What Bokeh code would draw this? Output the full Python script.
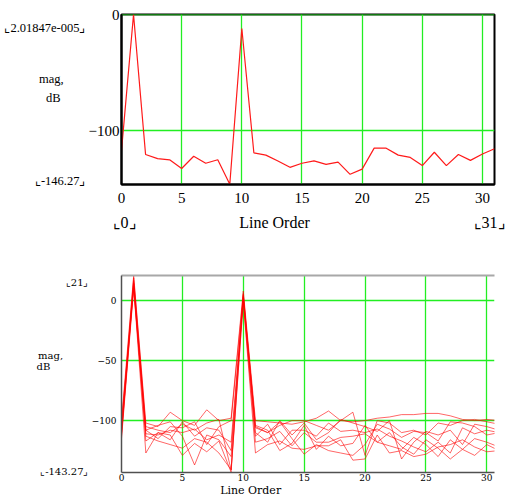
from bokeh.plotting import figure
from bokeh.layouts import column
from bokeh.models import FixedTicker, Range1d, LinearAxis, Grid
from bokeh.embed import file_html
from bokeh.resources import INLINE

# ---------------- data ----------------
orders = list(range(32))

top_mag = [-117, 0, -120.5, -124, -125, -132.5, -122, -128, -125, -146, -12,
           -119, -121, -126, -131.5, -128, -126, -129, -127, -137.5, -133,
           -115, -115, -121, -123, -130, -118.5, -130, -120.5, -125.5, -120, -115.5]

bottom_series = [
    [-100, 21, -102, -105, -93, -100, -104, -91, -100, -98, 8, -100, -101, -102, -103, -101,
     -98, -92, -100, -101, -100, -98, -97, -95, -95, -94, -94, -96, -99, -100, -99, -100],
    [-105, 19, -105, -108, -110, -103, -108, -102, -99, -141, 6, -105, -110, -104, -100, -100,
     -104, -108, -100, -93, -129, -100, -102, -110, -108, -112, -102, -104, -100, -99, -101, -103],
    [-108, 17, -108, -104, -101, -113, -137, -112, -116, -130, 4, -110, -118, -100, -112, -102,
     -116, -110, -99, -102, -105, -109, -100, -132, -118, -109, -112, -108, -120, -103, -105, -108],
    [-111, 15, -111, -112, -108, -110, -107, -116, -112, -118, 2, -113, -103, -120, -108, -108,
     -113, -102, -109, -108, -110, -107, -113, -117, -122, -126, -118, -127, -106, -111, -108, -110],
    [-113, 14, -113, -117, -120, -123, -115, -118, -127, -141, 0, -118, -115, -109, -121, -110,
     -118, -118, -114, -113, -111, -118, -121, -124, -114, -120, -130, -116, -124, -115, -118, -122],
    [-102, 12, -117, -110, -112, -129, -119, -126, -117, -143, -1, -127, -120, -117, -123, -124,
     -121, -121, -116, -133, -132, -112, -127, -125, -130, -128, -122, -120, -116, -122, -126, -125],
    [-110, 11, -127, -110, -116, -101, -113, -106, -108, -125, 3, -104, -108, -125, -119, -104,
     -124, -113, -121, -119, -104, -118, -110, -122, -128, -116, -123, -132, -124, -129, -120, -125],
    [-115, 10, -108, -115, -105, -106, -101, -120, -105, -100, 5, -106, -110, -101, -115, -128,
     -120, -125, -127, -129, -120, -103, -107, -114, -109, -110, -117, -101, -102, -105, -112, -110],
]

x_ticks = [0, 5, 10, 15, 20, 25, 30]
top_y_ticks = [0, -100]
bottom_y_ticks = [0, -50, -100]
top_y_range = (-146.27, 2.01847e-05)
bottom_y_range = (-143.27, 21)
top_x_range = (0, 31)
bottom_x_range = (0, 30.63)

top_limit_labels = ["⌞2.01847e-005⌟", "⌞-146.27⌟"]
top_x_limit_labels = ["⌞0⌟", "⌞31⌟"]
bottom_limit_labels = ["⌞21⌟", "⌞-143.27⌟"]
y_title = ["mag,", "dB"]
x_title = "Line Order"

GREEN = "#22ee22"
SERIF = "Liberation Serif"
SMALL = "DejaVu Serif"
NB = "\u00a0"


def py_to_data(py, top_px, bottom_px, rng):
    lo, hi = rng
    return hi - (py - top_px) / (bottom_px - top_px) * (hi - lo)


def px_to_data(px, left_px, right_px, rng):
    lo, hi = rng
    return lo + (px - left_px) / (right_px - left_px) * (hi - lo)


def plain_axis(ax, color, width):
    ax.major_tick_line_color = None
    ax.minor_tick_line_color = None
    ax.major_tick_out = 0
    ax.major_tick_in = 0
    ax.minor_tick_out = 0
    ax.minor_tick_in = 0
    ax.axis_line_color = color
    ax.axis_line_width = width
    ax.major_label_text_color = "black"
    return ax


# ---------------- top chart ----------------
# frame: x 121..494, y 14..184 (page px)
T_L, T_R, T_T, T_B = 121, 494, 14, 184
p1 = figure(width=507, height=250, output_backend="svg", toolbar_location=None,
            x_range=Range1d(*top_x_range), y_range=Range1d(*top_y_range),
            x_axis_type=None, y_axis_type=None,
            min_border_left=T_L, min_border_right=507 - T_R, min_border_top=T_T,
            min_border_bottom=250 - T_B)
p1.background_fill_color = "white"
p1.border_fill_color = "white"
p1.outline_line_color = "black"
p1.outline_line_width = 2

p1.add_layout(Grid(dimension=0, ticker=FixedTicker(ticks=x_ticks), grid_line_color=GREEN, grid_line_width=1.3))
p1.add_layout(Grid(dimension=1, ticker=FixedTicker(ticks=top_y_ticks), grid_line_color=GREEN, grid_line_width=1.3))
p1.line(orders, top_mag, line_color="#ff1a1a", line_width=1.2)

ya = plain_axis(LinearAxis(ticker=FixedTicker(ticks=top_y_ticks)), "black", 2)
ya.major_label_text_font = SERIF
ya.major_label_text_font_size = "15px"
ya.major_label_standoff = 2
p1.add_layout(ya, "left")

# outer left axis holding the Mathcad limit labels and the y title
t_pos = [py_to_data(27, T_T, T_B, top_y_range), py_to_data(78, T_T, T_B, top_y_range),
         py_to_data(97, T_T, T_B, top_y_range), py_to_data(180, T_T, T_B, top_y_range)]
ya2 = plain_axis(LinearAxis(ticker=FixedTicker(ticks=t_pos)), None, 0)
ya2.major_label_overrides = {t_pos[0]: top_limit_labels[0], t_pos[1]: y_title[0] + NB * 7,
                             t_pos[2]: y_title[1] + NB * 8, t_pos[3]: top_limit_labels[1]}
ya2.major_label_text_font = SERIF
ya2.major_label_text_font_size = "12.5px"
ya2.major_label_standoff = 0
p1.add_layout(ya2, "left")

xa = plain_axis(LinearAxis(ticker=FixedTicker(ticks=x_ticks)), "black", 2)
xa.major_label_text_font = SERIF
xa.major_label_text_font_size = "15px"
xa.major_label_standoff = 8
p1.add_layout(xa, "below")

b_pos = [px_to_data(124, T_L, T_R, top_x_range), px_to_data(274, T_L, T_R, top_x_range),
         px_to_data(489, T_L, T_R, top_x_range)]
xa2 = plain_axis(LinearAxis(ticker=FixedTicker(ticks=b_pos)), None, 0)
xa2.major_label_overrides = {b_pos[0]: top_x_limit_labels[0], b_pos[1]: x_title,
                             b_pos[2]: top_x_limit_labels[1]}
xa2.major_label_text_font = SERIF
xa2.major_label_text_font_size = "16px"
xa2.major_label_standoff = 8
p1.add_layout(xa2, "below")

# ---------------- bottom chart ----------------
# frame: x 120..507, y 275..473 (page px); figure starts at page y 250
B_L, B_T, B_B = 120, 275, 473
p2 = figure(width=507, height=249, output_backend="svg", toolbar_location=None,
            x_range=Range1d(*bottom_x_range), y_range=Range1d(*bottom_y_range),
            x_axis_type=None, y_axis_type=None,
            min_border_left=B_L, min_border_right=0, min_border_top=B_T - 250,
            min_border_bottom=499 - B_B)
p2.background_fill_color = "white"
p2.border_fill_color = "white"
p2.outline_line_color = None

p2.add_layout(Grid(dimension=0, ticker=FixedTicker(ticks=x_ticks), grid_line_color=GREEN, grid_line_width=1.3))
p2.add_layout(Grid(dimension=1, ticker=FixedTicker(ticks=bottom_y_ticks), grid_line_color=GREEN, grid_line_width=1.3))
for s in bottom_series:
    p2.line(orders, s, line_color="#ff0000", line_alpha=0.6, line_width=1)

top_border = plain_axis(LinearAxis(ticker=FixedTicker(ticks=[])), "#a8a8a8", 2)
top_border.major_label_text_color = None
p2.add_layout(top_border, "above")

yb = plain_axis(LinearAxis(ticker=FixedTicker(ticks=bottom_y_ticks)), "#505050", 1.5)
yb.major_label_text_font = SMALL
yb.major_label_text_font_size = "9px"
yb.major_label_standoff = 5
p2.add_layout(yb, "left")

bt_pos = [py_to_data(282, B_T, B_B, bottom_y_range), py_to_data(355, B_T, B_B, bottom_y_range),
          py_to_data(366, B_T, B_B, bottom_y_range), py_to_data(472, B_T, B_B, bottom_y_range)]
yb2 = plain_axis(LinearAxis(ticker=FixedTicker(ticks=bt_pos)), None, 0)
yb2.major_label_overrides = {bt_pos[0]: bottom_limit_labels[0], bt_pos[1]: y_title[0] + NB * 8,
                             bt_pos[2]: y_title[1] + NB * 12, bt_pos[3]: bottom_limit_labels[1]}
yb2.major_label_text_font = SMALL
yb2.major_label_text_font_size = "10px"
yb2.major_label_standoff = 0
p2.add_layout(yb2, "left")

xb = plain_axis(LinearAxis(ticker=FixedTicker(ticks=x_ticks)), "#505050", 1.5)
xb.major_label_text_font = SMALL
xb.major_label_text_font_size = "9px"
xb.major_label_standoff = 1
p2.add_layout(xb, "below")

bb_pos = [px_to_data(254, B_L, 507, bottom_x_range)]
xb2 = plain_axis(LinearAxis(ticker=FixedTicker(ticks=bb_pos)), None, 0)
xb2.major_label_overrides = {bb_pos[0]: x_title}
xb2.major_label_text_font = SMALL
xb2.major_label_text_font_size = "11px"
xb2.major_label_standoff = 0
p2.add_layout(xb2, "below")

layout = column(p1, p2, spacing=0)
open("out.html", "w").write(file_html(layout, INLINE))
